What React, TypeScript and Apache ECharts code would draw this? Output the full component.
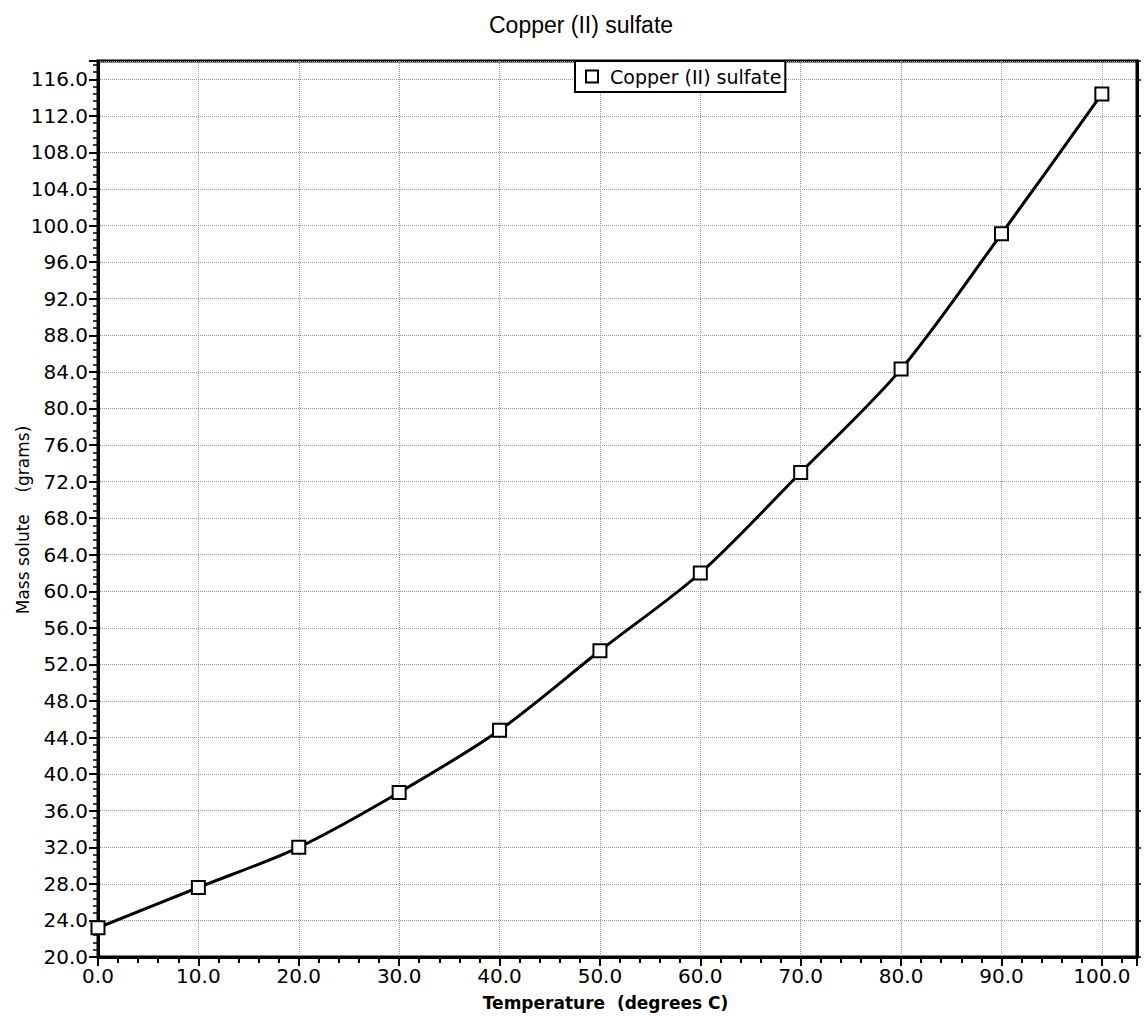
import React, { useEffect, useRef } from "react";
import * as echarts from "echarts";

const temperatures = [0, 10, 20, 30, 40, 50, 60, 70, 80, 90, 100];
const massSolute = [23.2, 27.6, 32.0, 38.0, 44.8, 53.5, 62.0, 73.0, 84.3, 99.1, 114.4];
const seriesName = "Copper (II) sulfate";
const titleText = "Copper (II) sulfate";
const xName = "Temperature  (degrees C)";
const yName = "Mass solute    (grams)";

const FONT = "DejaVu Sans";

export default function App() {
  const ref = useRef<HTMLDivElement>(null);
  useEffect(() => {
    if (!ref.current) return;
    const chart = echarts.init(ref.current, null, { renderer: "svg" });
    const data = temperatures.map((t, i) => [t, massSolute[i]]);
    const labelFmt = (v: number) => v.toFixed(1);
    chart.setOption({
      animation: false,
      backgroundColor: "#ffffff",
      title: {
        text: titleText,
        left: 484,
        top: 8,
        textStyle: { fontFamily: "Liberation Sans", fontSize: 23, fontWeight: "normal", color: "#000" },
      },
      legend: {
        left: 575,
        top: 61,
        orient: "horizontal",
        backgroundColor: "#fff",
        borderColor: "#000",
        borderWidth: 2,
        borderRadius: 0,
        padding: [6, 4, 6, 10],
        itemWidth: 12,
        itemHeight: 12,
        textStyle: { fontFamily: FONT, fontSize: 19, color: "#000", padding: [0, 0, 0, 7] },
        data: [
          {
            name: seriesName,
            icon: "rect",
            itemStyle: { color: "#fff", borderColor: "#000", borderWidth: 2 },
          },
        ],
      },
      grid: {
        left: 98,
        right: 8,
        top: 61,
        bottom: 59,
        show: true,
        borderColor: "#000",
        borderWidth: 3,
        containLabel: false,
        outerBoundsMode: "none",
      },
      xAxis: {
        type: "value",
        min: 0,
        max: 103.5,
        interval: 10,
        name: xName,
        nameLocation: "middle",
        nameGap: 37,
        nameMoveOverlap: false,
        nameTextStyle: {
          fontFamily: FONT,
          fontSize: 17,
          fontWeight: "bold",
          color: "#000",
          padding: [0, 24, 0, 0],
        },
        axisLine: { show: true, lineStyle: { color: "#000", width: 3 } },
        axisTick: { show: true, length: 9, lineStyle: { color: "#000", width: 2 } },
        minorTick: { show: true, splitNumber: 5, length: 6, lineStyle: { color: "#000", width: 2 } },
        axisLabel: {
          showMaxLabel: false,
          fontFamily: FONT,
          fontSize: 20,
          color: "#000",
          margin: 9,
          formatter: labelFmt,
        },
        splitLine: { show: true, lineStyle: { color: "#999", type: "dotted", width: 1 } },
      },
      yAxis: [
        {
          type: "value",
          min: 20,
          max: 118,
          interval: 4,
          name: yName,
          nameLocation: "middle",
          nameGap: 67,
          nameMoveOverlap: false,
          nameTextStyle: { fontFamily: FONT, fontSize: 17, color: "#000", padding: [0, 22, 0, 0] },
          axisLine: { show: true, lineStyle: { color: "#000", width: 3 } },
          axisTick: { show: true, length: 9, lineStyle: { color: "#000", width: 2 } },
          minorTick: { show: true, splitNumber: 5, length: 5, lineStyle: { color: "#000", width: 1.5 } },
          axisLabel: {
            showMaxLabel: false,
            fontFamily: FONT,
            fontSize: 20,
            color: "#000",
            margin: 10,
            formatter: labelFmt,
          },
          splitLine: { show: true, lineStyle: { color: "#999", type: "dotted", width: 1 } },
        },
        {
          type: "value",
          position: "right",
          min: 20,
          max: 118,
          interval: 4,
          axisLine: { show: true, lineStyle: { color: "#000", width: 3 } },
          axisTick: { show: true, length: 4, lineStyle: { color: "#000", width: 1.5 } },
          minorTick: { show: false },
          axisLabel: { show: false },
          splitLine: { show: false },
        },
      ],
      series: [
        {
          name: seriesName,
          type: "line",
          data,
          smooth: 0.3,
          symbol: "rect",
          symbolSize: 13,
          showAllSymbol: true,
          lineStyle: { color: "#000", width: 3 },
          itemStyle: { color: "#fff", borderColor: "#000", borderWidth: 2 },
          z: 3,
        },
      ],
    });
    return () => chart.dispose();
  }, []);
  return <div ref={ref} style={{ width: 1145, height: 1016, position: "absolute", left: 0, top: 0 }} />;
}
